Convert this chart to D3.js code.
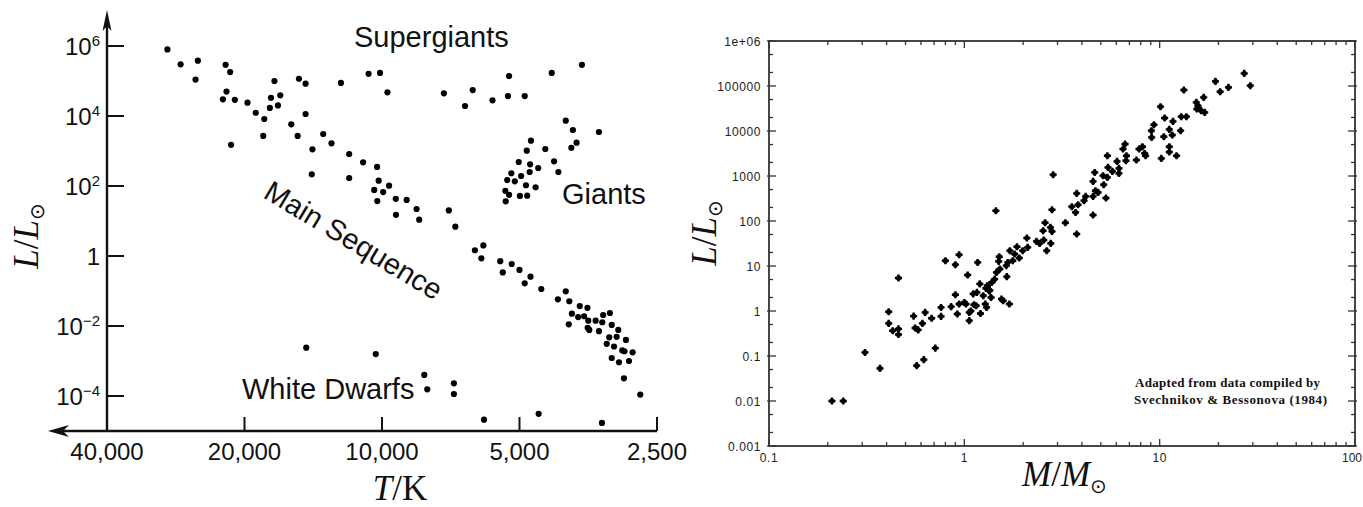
<!DOCTYPE html>
<html><head><meta charset="utf-8">
<script src="https://cdn.jsdelivr.net/npm/d3@7"></script>
<style>body{margin:0;background:#fff}svg{display:block}</style>
</head><body>
<svg id="c" width="1363" height="507"></svg>
<script>
// ---------- Left panel: Hertzsprung-Russell diagram ----------
const hrTickTemps = [40000, 20000, 10000, 5000, 2500];
const hrTickTempLabels = ["40,000", "20,000", "10,000", "5,000", "2,500"];
const hrTickLums = [1e6, 1e4, 1e2, 1, 1e-2, 1e-4];
const hrTickLumExp = ["6", "4", "2", null, "\u22122", "\u22124"];

// [T (K), L/Lsun]
const mainSequence = [
 [29500,8.0e5],[27600,3.0e5],[25300,3.8e5],[25600,1.1e5],[22000,2.9e5],[21500,1.8e5],
 [21900,5.0e4],[22300,3.0e4],[21000,2.9e4],[19700,2.4e4],[21400,1500],[18900,1.24e4],
 [18100,8200],[17500,3.3e4],[16700,3.9e4],[17600,1.7e4],[16900,2.0e4],[17200,1.0e5],
 [18200,2700],[15200,1.16e5],[14700,8.4e4],[14700,1.14e4],[15800,5800],[15300,2700],
 [14200,1120],[14250,216],[13450,3060],[12900,1660],[11800,820],[11800,169],[11000,475],
 [10250,350],[10170,142],[9650,102],[10400,77],[9940,67],[10240,37],[9330,43],[8830,40],
 [9320,15],[8400,22],[8290,10.9],[7140,20],[6910,6.9],[6000,2.0],[6260,1.46],[6060,0.86],
 [5510,0.71],[5200,0.59],[5440,0.34],[5000,0.40],[4730,0.256],[4870,0.166],[4480,0.114],
 [3960,0.098],[4120,0.058],[3890,0.051],[3690,0.037],[3550,0.033],[3840,0.0225],[3720,0.018],
 [3610,0.019],[3280,0.0206],[3170,0.0235],[3900,0.0112],[3535,0.0142],[3406,0.0142],
 [3294,0.0128],[3546,0.0089],[3517,0.0077],[3350,0.0071],[3141,0.0107],[3039,0.0077],
 [3180,0.00475],[3064,0.0049],[3221,0.0031],[2924,0.0040],[3105,0.0026],[2978,0.0020],
 [2946,0.0019],[2827,0.00177],[3141,0.00122],[3028,0.00092],[2879,0.0010],[2953,0.00032],
 [2720,0.00011]
];
const supergiants = [
 [12300,8.8e4],[10700,1.6e5],[10100,1.7e5],[9730,4.75e4],[7320,4.45e4],[6580,1.93e4],
 [6330,5.5e4],[5730,2.8e4],[5270,1.39e5],[5300,3.7e4],[4870,3.7e4],[4250,1.7e5],[3650,2.9e5]
];
const giants = [
 [3960,7340],[3820,3980],[3350,3490],[3750,1730],[3850,1240],[4720,1970],[4390,1140],
 [4820,1020],[4200,508],[4110,251],[5020,485],[4740,417],[4550,327],[4750,251],[5210,231],
 [4960,193],[5320,148],[5120,136],[4840,105],[4610,92],[5370,73],[5270,56],[4990,52],
 [4810,53],[5360,36.5]
];
const whiteDwarfs = [
 [14650,0.0024],[10320,0.00158],[8080,0.0004],[7960,0.000155],[6960,0.00023],
 [6960,0.000114],[5980,2.1e-5],[4540,3.1e-5],[3300,1.7e-5]
];

// ---------- Right panel: mass-luminosity relation ----------
const mlTickMass = [0.1, 1, 10, 100];
const mlTickMassLabels = ["0.1", "1", "10", "100"];
const mlTickLum = [1e6, 1e5, 1e4, 1e3, 100, 10, 1, 0.1, 0.01, 0.001];
const mlTickLumLabels = ["1e+06","100000","10000","1000","100","10","1","0.1","0.01","0.001"];
// [M/Msun, L/Lsun]
const mlStars = [
 [0.21,0.010],[0.24,0.010],[0.31,0.12],[0.37,0.053],[0.41,0.96],[0.41,0.53],[0.43,0.365],
 [0.46,0.40],[0.46,0.30],[0.46,5.4],[0.55,0.77],[0.56,0.42],[0.58,0.38],[0.57,0.061],
 [0.61,0.53],[0.62,0.083],[0.63,0.93],[0.68,0.69],[0.71,0.15],[0.76,1.2],[0.76,0.76],
 [0.80,13.1],[0.856,1.25],[0.90,10.7],[0.90,2.3],[0.92,0.86],[0.94,17.8],[0.94,1.43],
 [1.0,1.55],[1.04,6.3],[1.06,0.93],[1.06,0.61],[1.11,2.4],[1.12,1.38],[1.17,12.0],
 [1.21,0.88],[1.28,1.43],[1.30,1.2],[1.31,3.65],[1.34,2.8],[1.37,2.0],[1.55,1.85],
 [1.58,1.69],[1.70,1.43],[1.65,5.8],[1.20,4.0],[1.16,2.6],[1.25,2.19],[1.38,4.3],
 [1.43,5.1],[1.35,2.9],[1.29,3.2],[1.46,7.2],[1.52,8.6],[1.50,12.7],[1.51,16.1],
 [1.64,10.2],[1.67,12.0],[1.77,13.1],[1.71,21.9],[1.81,18.5],[1.91,15.1],[1.99,21.9],
 [1.86,26.8],[2.11,25.9],[2.09,41.9],[2.34,35.2],[2.43,31.8],[2.55,37.8],[2.77,31.8],
 [2.64,21.9],[2.53,60.9],[2.59,91.7],[2.76,72],[2.81,58.7],[2.81,178],[3.29,91.7],
 [1.45,169],[1.02,1.43],[1.08,1.0],[1.15,1.31],
 [2.85,1070],[3.76,51.4],[3.55,208],[3.71,155],[3.82,230],[3.76,410],[4.10,283],
 [4.18,352],[4.56,136],[4.56,352],[4.69,471],[4.84,432],[4.56,759],[4.65,1200],
 [5.17,641],[5.13,1016],[5.31,324],[5.40,931],[5.44,1553],[5.40,2825],[5.73,1265],
 [6.19,1142],[6.19,1475],[6.05,2110],[6.49,3981],[6.65,5140],[6.76,2825],[6.72,2188],
 [7.60,2268],[7.84,3981],[8.16,4477],[8.38,3178],[8.47,2825],[9.07,10160],[9.10,7210],
 [9.35,13800],[10.1,34700],[10.2,2460],[10.5,7470],[10.6,19450],[11.2,4477],[11.2,3415],
 [11.2,10860],[11.6,8150],[11.7,16340],[12.2,2825],[12.8,10160],[12.9,20800],[13.3,81500],
 [13.7,20800],[15.4,43200],[15.7,36500],[15.5,30800],[16.3,28300],[16.8,55800],[17.0,25900],
 [19.3,126500],[20.4,74700],[22.5,93100],[27.1,190500],[29.1,101600]
];
const mlMinorMassMult = [2,3,4,5,6,7,8,9];
const mlMinorLumMult = [2,5];

const svg = d3.select("#c");
const SANS = "'Liberation Sans', Arial, sans-serif";
const SERIF = "'Liberation Serif', 'Times New Roman', serif";

// ===== LEFT PANEL =====
const xT = d3.scaleLog().domain([40000, 2500]).range([107, 657]);
const yHR = d3.scaleLog().domain([1e-5, 1e7]).range([431, 11]);
const gL = svg.append("g");
const axisColor = "#111";
gL.append("line").attr("x1", xT(40000)).attr("x2", xT(40000))
  .attr("y1", yHR(1e-5)).attr("y2", 26).attr("stroke", axisColor).attr("stroke-width", 2.4);
gL.append("line").attr("x1", xT(2500)).attr("x2", 62)
  .attr("y1", yHR(1e-5)).attr("y2", yHR(1e-5)).attr("stroke", axisColor).attr("stroke-width", 2.4);
const ax0 = xT(40000), ay0 = yHR(1e-5);
gL.append("path").attr("d", `M${ax0},10 L${ax0+4.5},31 L${ax0},26 L${ax0-4.5},31 Z`).attr("fill", axisColor);
gL.append("path").attr("d", `M48,${ay0} L69,${ay0-6} L63,${ay0} L69,${ay0+6} Z`).attr("fill", axisColor);
hrTickLums.forEach((v, i) => {
  const y = yHR(v);
  gL.append("line").attr("x1", ax0).attr("x2", ax0 + 17).attr("y1", y).attr("y2", y)
    .attr("stroke", axisColor).attr("stroke-width", 2);
  const t = gL.append("text").attr("x", 100).attr("y", y + 8.5).attr("text-anchor", "end")
    .attr("font-family", SANS).attr("font-size", 24).attr("fill", "#111");
  if (hrTickLumExp[i] === null) { t.text("1"); }
  else {
    t.append("tspan").text("10");
    t.append("tspan").attr("font-size", 15).attr("dy", -9).text(hrTickLumExp[i]);
  }
});
hrTickTemps.forEach((v, i) => {
  const x = xT(v);
  if (i > 0) gL.append("line").attr("x1", x).attr("x2", x).attr("y1", ay0).attr("y2", ay0 - 14)
    .attr("stroke", axisColor).attr("stroke-width", 2);
  gL.append("text").attr("x", x).attr("y", 460).attr("text-anchor", "middle")
    .attr("font-family", SANS).attr("font-size", 24).attr("fill", "#111").text(hrTickTempLabels[i]);
});
[mainSequence, supergiants, giants, whiteDwarfs].forEach(arr => {
  gL.append("g").selectAll("circle").data(arr).join("circle")
    .attr("cx", d => xT(d[0])).attr("cy", d => yHR(d[1])).attr("r", 3.1).attr("fill", "#000");
});
const lab = (x, y, s, rot) => {
  const t = gL.append("text").attr("x", x).attr("y", y).attr("font-family", SANS)
    .attr("font-size", 29).attr("fill", "#111").text(s);
  if (rot) t.attr("transform", `rotate(${rot},${x},${y})`);
};
lab(354, 47, "Supergiants");
lab(562, 204, "Giants");
lab(242, 399, "White Dwarfs");
lab(262, 197, "Main Sequence", 31);
const tk = gL.append("text").attr("x", 400).attr("y", 500).attr("text-anchor", "middle")
  .attr("font-family", SERIF).attr("font-size", 35).attr("fill", "#111");
tk.append("tspan").attr("font-style", "italic").text("T");
tk.append("tspan").text("/K");
function lumTitle(g, x, y) {
  const t = g.append("text").attr("transform", `translate(${x},${y}) rotate(-90)`)
    .attr("text-anchor", "middle").attr("font-family", SERIF).attr("font-size", 35).attr("fill", "#111");
  t.append("tspan").attr("font-style", "italic").text("L");
  t.append("tspan").text("/");
  t.append("tspan").attr("font-style", "italic").text("L");
  t.append("tspan").attr("font-family", "'DejaVu Sans', sans-serif").attr("font-size", 20).attr("dy", 6).text("\u2299");
}
lumTitle(gL, 38, 236);

// ===== RIGHT PANEL =====
const xM = d3.scaleLog().domain([0.1, 100]).range([769, 1355]);
const yML = d3.scaleLog().domain([0.001, 1e6]).range([446, 41]);
const gR = svg.append("g");
const fc = "#333";
const [x0, x1] = xM.range(), [y0, y1] = yML.range();
const tickLine = (xa, ya, xb, yb, w) => gR.append("line").attr("x1", xa).attr("y1", ya)
  .attr("x2", xb).attr("y2", yb).attr("stroke", fc).attr("stroke-width", w || 1.3);
mlTickMass.slice(0, 3).forEach(d => {
  mlMinorMassMult.forEach(m => {
    const x = xM(d * m);
    tickLine(x, y0, x, y0 - 4); tickLine(x, y1, x, y1 + 4);
  });
});
mlTickMass.forEach(d => { const x = xM(d); tickLine(x, y0, x, y0 - 7); tickLine(x, y1, x, y1 + 7); });
mlTickLum.slice(1).forEach(d => {
  mlMinorLumMult.forEach(m => {
    const y = yML(d * m);
    tickLine(x0, y, x0 + 4, y); tickLine(x1, y, x1 - 4, y);
  });
});
mlTickLum.forEach(d => { const y = yML(d); tickLine(x0 - 2, y, x0 + 7, y); tickLine(x1 + 2, y, x1 - 7, y); });
gR.append("rect").attr("x", x0).attr("y", y1).attr("width", x1 - x0).attr("height", y0 - y1)
  .attr("fill", "none").attr("stroke", fc).attr("stroke-width", 1.8);
mlTickLum.forEach((d, i) => {
  gR.append("text").attr("x", 761).attr("y", yML(d) + 4.5).attr("text-anchor", "end")
    .attr("font-family", SANS).attr("font-size", 12).attr("letter-spacing", 0.6)
    .attr("fill", "#222").text(mlTickLumLabels[i]);
});
mlTickMass.forEach((d, i) => {
  const last = i === mlTickMass.length - 1;
  gR.append("text").attr("x", last ? 1362 : xM(d)).attr("y", 462)
    .attr("text-anchor", last ? "end" : "middle")
    .attr("font-family", SANS).attr("font-size", 12).attr("letter-spacing", last ? 0 : 0.6)
    .attr("fill", "#222").text(mlTickMassLabels[i]);
});
const mg = gR.append("g").attr("fill", "#000");
const cross = d3.symbol(d3.symbolCross, 28);
mg.selectAll("path").data(mlStars).join("path")
  .attr("d", cross).attr("transform", d => `translate(${xM(d[0])},${yML(d[1])})`);
mg.selectAll("circle").data(mlStars).join("circle")
  .attr("cx", d => xM(d[0])).attr("cy", d => yML(d[1])).attr("r", 2.6);
gR.append("text").attr("x", 1135).attr("y", 387).attr("font-family", SERIF).attr("font-weight", "bold")
  .attr("font-size", 13).attr("textLength", 185).attr("lengthAdjust", "spacing").attr("fill", "#111")
  .text("Adapted from data compiled by");
gR.append("text").attr("x", 1134).attr("y", 404).attr("font-family", SERIF).attr("font-weight", "bold")
  .attr("font-size", 13).attr("textLength", 193).attr("lengthAdjust", "spacing").attr("fill", "#111")
  .text("Svechnikov & Bessonova (1984)");
const mt = gR.append("text").attr("x", 1022).attr("y", 486)
  .attr("font-family", SERIF).attr("font-size", 35).attr("fill", "#111");
mt.append("tspan").attr("font-style", "italic").text("M");
mt.append("tspan").text("/");
mt.append("tspan").attr("font-style", "italic").text("M");
mt.append("tspan").attr("font-family", "'DejaVu Sans', sans-serif").attr("font-size", 20).attr("dy", 7).text("\u2299");
lumTitle(gR, 716, 233);
</script>
</body></html>
